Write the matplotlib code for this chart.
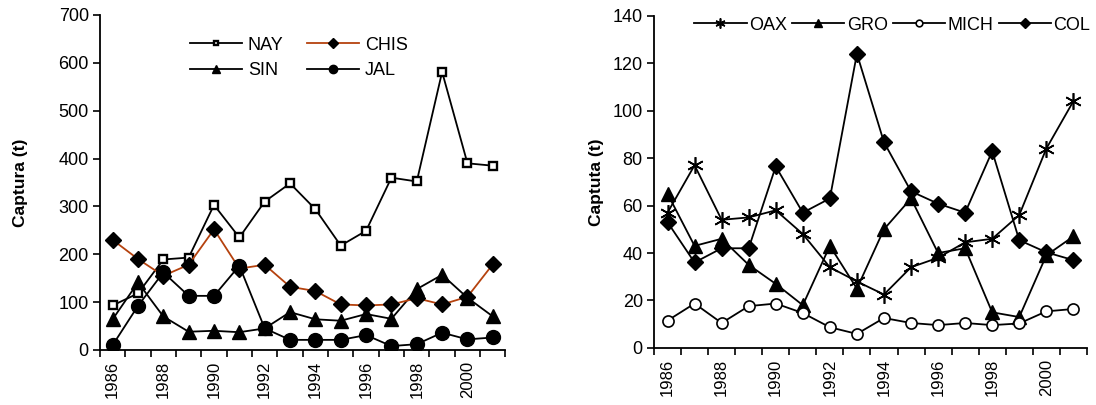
import numpy as np
import matplotlib
matplotlib.use("Agg")
from matplotlib import pyplot as plt

plt.rcParams['font.family'] = ['Liberation Sans', 'DejaVu Sans']

years = list(range(1986, 2002))

# left panel (t)
nay = [93, 118, 189, 193, 303, 235, 310, 348, 294, 218, 249, 360, 352, 581, 390, 385]
chis = [230, 190, 155, 178, 252, 170, 178, 132, 123, 95, 93, 95, 108, 95, 111, 179]
sin = [64, 141, 70, 38, 40, 37, 45, 79, 64, 61, 75, 65, 127, 157, 109, 70]
jal = [10, 92, 162, 113, 113, 176, 45, 21, 21, 21, 31, 8, 12, 36, 22, 26]

# right panel (t)
oax = [57, 77, 54, 55, 58, 48, 34, 28, 22.5, 34, 38, 44.5, 46, 56, 84, 104]
gro = [65, 43, 46, 35, 27, 18, 43, 25, 50, 63, 40, 42, 15, 13, 39, 47]
mich = [11.5, 18.7, 10.5, 17.6, 18.7, 14.7, 8.7, 5.9, 12.6, 10.5, 9.6, 10.5, 9.6, 10.3, 15.4, 16.4]
col = [53, 36, 42, 42, 76.5, 57, 63, 124, 86.7, 66, 60.8, 57, 82.9, 45.4, 40.3, 37]

CHIS_COLOR = '#b5420e'
FS = 13

fig = plt.figure(figsize=(10.96, 4.05), dpi=100)
ax1 = fig.add_axes([0.0912, 0.136, 0.370, 0.827])
ax2 = fig.add_axes([0.5967, 0.141, 0.395, 0.820])

x = np.arange(len(years))


def style_axis(ax, ymax, ystep, ylabel, lpad):
    ax.set_xlim(-0.5, len(years) - 0.5)
    ax.set_ylim(0, ymax)
    ax.set_yticks(np.arange(0, ymax + 1, ystep))
    ax.set_xticks(x[::2])
    ax.set_xticklabels([str(y) for y in years[::2]], rotation=90, fontsize=12)
    ax.set_xticks(np.arange(-0.5, len(years)), minor=True)
    ax.tick_params(axis='x', which='major', length=0, pad=8)
    ax.tick_params(axis='x', which='minor', length=5, width=1.2, direction='out')
    ax.tick_params(axis='y', length=5, width=1.2, labelsize=FS, direction='out', pad=3)
    for side in ['top', 'right']:
        ax.spines[side].set_visible(False)
    for side in ['left', 'bottom']:
        ax.spines[side].set_linewidth(1.3)
    ax.set_ylabel(ylabel, fontsize=12.5, fontweight='bold', labelpad=lpad)


lw = 1.3
ax1.plot(x, nay, color='black', lw=lw, marker='s', ms=5.5, mfc='white', mec='black', mew=1.7, label='NAY')
ax1.plot(x, sin, color='black', lw=lw, marker='^', ms=10, mfc='black', mec='black', label='SIN')
ax1.plot(x, chis, color=CHIS_COLOR, lw=lw, marker='D', ms=8.5, mfc='black', mec='black', label='CHIS')
ax1.plot(x, jal, color='black', lw=lw, marker='o', ms=10, mfc='black', mec='black', label='JAL')
style_axis(ax1, 700, 100, 'Captura (t)', 22)
ax1.legend(ncol=2, loc='upper left', bbox_to_anchor=(0.2, 0.962), frameon=False, fontsize=FS,
           markerscale=0.6, handlelength=2.9, handletextpad=0.3, columnspacing=1.3,
           labelspacing=0.45, borderpad=0)

ax2.plot(x, oax, color='black', lw=lw, marker=(6, 2, 0), ms=12, mec='black', mew=1.2, label='OAX')
ax2.plot(x, gro, color='black', lw=lw, marker='^', ms=10, mfc='black', mec='black', label='GRO')
ax2.plot(x, mich, color='black', lw=lw, marker='o', ms=8, mfc='white', mec='black', mew=1.2, label='MICH')
ax2.plot(x, col, color='black', lw=lw, marker='D', ms=8.5, mfc='black', mec='black', label='COL')
style_axis(ax2, 140, 20, 'Captuta (t)', 6)
ax2.legend(ncol=4, loc='upper left', bbox_to_anchor=(0.072, 1.025), frameon=False, fontsize=FS,
           markerscale=0.6, handlelength=2.9, handletextpad=0.12, columnspacing=0.3,
           borderpad=0)

fig.savefig('out.png', dpi=100)
